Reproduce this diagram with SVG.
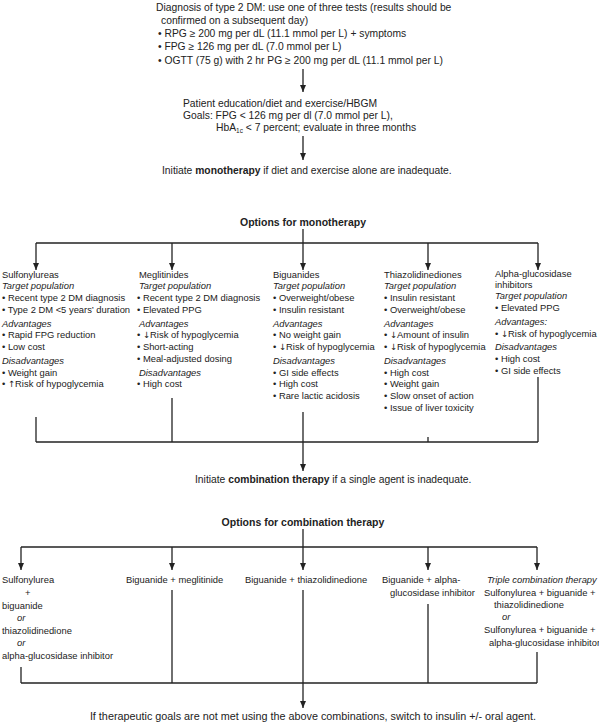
<svg xmlns="http://www.w3.org/2000/svg" width="599" height="724" viewBox="0 0 599 724">
<style>
text{font-family:"Liberation Sans",Arial,sans-serif;font-size:9.4px;fill:#222}
.lg{font-size:10.3px}
.fin{font-size:10.8px;text-anchor:middle}
.i{font-style:italic}
.b{font-weight:bold}
.g{font-family:"DejaVu Sans",sans-serif;font-size:8.6px}
.ttl{font-weight:bold;font-size:10.5px;text-anchor:middle}
.ln{stroke:#222;stroke-width:1.3;fill:none}
.ar{stroke:#222;stroke-width:1.3;fill:none;marker-end:url(#ah)}
</style>
<defs>
<marker id="ah" markerWidth="7" markerHeight="6" refX="7" refY="3" orient="auto" markerUnits="userSpaceOnUse">
<path d="M0,0 L7,3 L0,6 z" fill="#222"/>
</marker>
</defs>
<rect width="599" height="724" fill="#fff"/>

<g id="connectors">
<line class="ar" x1="303" y1="69" x2="303" y2="92"/>
<line class="ar" x1="303" y1="136" x2="303" y2="160"/>
<line class="ln" x1="303" y1="229" x2="303" y2="243"/>
<line class="ln" x1="36" y1="243" x2="538" y2="243"/>
<line class="ar" x1="36" y1="243" x2="36" y2="270"/>
<line class="ar" x1="172" y1="243" x2="172" y2="270"/>
<line class="ar" x1="303" y1="243" x2="303" y2="270"/>
<line class="ar" x1="428" y1="243" x2="428" y2="270"/>
<line class="ar" x1="538" y1="243" x2="538" y2="270"/>
<line class="ln" x1="36" y1="417" x2="36" y2="442"/>
<line class="ln" x1="172" y1="398" x2="172" y2="442"/>
<line class="ln" x1="428" y1="437" x2="428" y2="442"/>
<line class="ln" x1="538" y1="377" x2="538" y2="442"/>
<line class="ln" x1="36" y1="442" x2="538" y2="442"/>
<line class="ar" x1="303" y1="412" x2="303" y2="471"/>
<line class="ln" x1="303" y1="529" x2="303" y2="547"/>
<line class="ln" x1="21" y1="547" x2="537" y2="547"/>
<line class="ar" x1="21" y1="547" x2="21" y2="570"/>
<line class="ar" x1="172" y1="547" x2="172" y2="570"/>
<line class="ar" x1="303" y1="547" x2="303" y2="570"/>
<line class="ar" x1="428" y1="547" x2="428" y2="570"/>
<line class="ar" x1="537" y1="547" x2="537" y2="570"/>
<line class="ln" x1="21" y1="667" x2="21" y2="683"/>
<line class="ln" x1="172" y1="590" x2="172" y2="683"/>
<line class="ln" x1="428" y1="604" x2="428" y2="683"/>
<line class="ln" x1="537" y1="652" x2="537" y2="683"/>
<line class="ln" x1="21" y1="683" x2="537" y2="683"/>
<line class="ar" x1="303" y1="590" x2="303" y2="708"/>
</g>

<g id="diagnosis">
<text class="lg" x="156" y="10.5">Diagnosis of type 2 DM: use one of three tests (results should be</text>
<text class="lg" x="161" y="23.5">confirmed on a subsequent day)</text>
<text class="lg" x="158" y="37">• RPG ≥ 200 mg per dL (11.1 mmol per L) + symptoms</text>
<text class="lg" x="158" y="50">• FPG ≥ 126 mg per dL (7.0 mmol per L)</text>
<text class="lg" x="158" y="63.5">• OGTT (75 g) with 2 hr PG ≥ 200 mg per dL (11.1 mmol per L)</text>
</g>

<g id="education">
<text class="lg" x="183" y="106.5">Patient education/diet and exercise/HBGM</text>
<text class="lg" x="183" y="118.5">Goals: FPG &lt; 126 mg per dl (7.0 mmol per L),</text>
<text class="lg" x="216" y="130.5">HbA<tspan dy="2" font-size="6.5">1c</tspan><tspan dy="-2"> &lt; 7 percent; evaluate in three months</tspan></text>
</g>

<g id="initiate-monotherapy">
<text class="lg" x="162" y="173.5">Initiate <tspan class="b">monotherapy</tspan> if diet and exercise alone are inadequate.</text>
</g>

<g id="monotherapy-title">
<text class="ttl" x="303" y="226">Options for monotherapy</text>
</g>

<g id="sulfonylureas">
<text x="2" y="277.5">Sulfonylureas</text>
<text class="i" x="2" y="289.3">Target population</text>
<text x="2" y="301.1">• Recent type 2 DM diagnosis</text>
<text x="2" y="312.9">• Type 2 DM &lt;5 years’ duration</text>
<text class="i" x="2" y="326.5">Advantages</text>
<text x="2" y="338.3">• Rapid FPG reduction</text>
<text x="2" y="350.1">• Low cost</text>
<text class="i" x="2" y="363.7">Disadvantages</text>
<text x="2" y="375.5">• Weight gain</text>
<text x="2" y="387.3">• <tspan class="g">↑</tspan>Risk of hypoglycemia</text>
</g>

<g id="meglitinides">
<text x="139" y="277.5">Meglitinides</text>
<text class="i" x="139" y="289.3">Target population</text>
<text x="137" y="301.1">• Recent type 2 DM diagnosis</text>
<text x="137" y="312.9">• Elevated PPG</text>
<text class="i" x="139" y="326.5">Advantages</text>
<text x="137" y="338.3">• <tspan class="g">↓</tspan>Risk of hypoglycemia</text>
<text x="137" y="350.1">• Short-acting</text>
<text x="137" y="361.9">• Meal-adjusted dosing</text>
<text class="i" x="139" y="375.5">Disadvantages</text>
<text x="137" y="387.3">• High cost</text>
</g>

<g id="biguanides">
<text x="273" y="277.5">Biguanides</text>
<text class="i" x="273" y="289.3">Target population</text>
<text x="273" y="301.1">• Overweight/obese</text>
<text x="273" y="312.9">• Insulin resistant</text>
<text class="i" x="273" y="326.5">Advantages</text>
<text x="273" y="338.3">• No weight gain</text>
<text x="273" y="350.1">• <tspan class="g">↓</tspan>Risk of hypoglycemia</text>
<text class="i" x="273" y="363.7">Disadvantages</text>
<text x="273" y="375.5">• GI side effects</text>
<text x="273" y="387.3">• High cost</text>
<text x="273" y="399.1">• Rare lactic acidosis</text>
</g>

<g id="thiazolidinediones">
<text x="384" y="277.5">Thiazolidinediones</text>
<text class="i" x="384" y="289.3">Target population</text>
<text x="384" y="301.1">• Insulin resistant</text>
<text x="384" y="312.9">• Overweight/obese</text>
<text class="i" x="384" y="326.5">Advantages</text>
<text x="384" y="338.3">• <tspan class="g">↓</tspan>Amount of insulin</text>
<text x="384" y="350.1">• <tspan class="g">↓</tspan>Risk of hypoglycemia</text>
<text class="i" x="384" y="363.7">Disadvantages</text>
<text x="384" y="375.5">• High cost</text>
<text x="384" y="387.3">• Weight gain</text>
<text x="384" y="399.1">• Slow onset of action</text>
<text x="384" y="410.9">• Issue of liver toxicity</text>
</g>

<g id="alpha-glucosidase-inhibitors">
<text x="495" y="276.5">Alpha-glucosidase</text>
<text x="495" y="287.5">inhibitors</text>
<text class="i" x="495" y="299.3">Target population</text>
<text x="495" y="311.1">• Elevated PPG</text>
<text class="i" x="495" y="324.7">Advantages:</text>
<text x="495" y="336.5">• <tspan class="g">↓</tspan>Risk of hypoglycemia</text>
<text class="i" x="495" y="350.1">Disadvantages</text>
<text x="495" y="361.9">• High cost</text>
<text x="495" y="373.7">• GI side effects</text>
</g>

<g id="initiate-combination">
<text class="lg" x="195" y="483">Initiate <tspan class="b">combination therapy</tspan> if a single agent is inadequate.</text>
</g>

<g id="combination-title">
<text class="ttl" x="303" y="526">Options for combination therapy</text>
</g>

<g id="sulfonylurea-combo">
<text x="2" y="583.3">Sulfonylurea</text>
<text x="25" y="596.3">+</text>
<text x="2" y="608.8">biguanide</text>
<text class="i" x="17" y="621.3">or</text>
<text x="2" y="633.8">thiazolidinedione</text>
<text class="i" x="17" y="646.3">or</text>
<text x="2" y="659.3">alpha-glucosidase inhibitor</text>
</g>

<g id="biguanide-meglitinide">
<text x="126" y="583.3">Biguanide + meglitinide</text>
</g>

<g id="biguanide-thiazolidinedione">
<text x="245" y="583.3">Biguanide + thiazolidinedione</text>
</g>

<g id="biguanide-alpha">
<text x="382" y="583.3">Biguanide + alpha-</text>
<text x="390" y="596">glucosidase inhibitor</text>
</g>

<g id="triple-combination">
<text class="i" x="487" y="583.3">Triple combination therapy</text>
<text x="484" y="595.8">Sulfonylurea + biguanide +</text>
<text x="494" y="607.5">thiazolidinedione</text>
<text class="i" x="502" y="620.3">or</text>
<text x="484" y="633.3">Sulfonylurea + biguanide +</text>
<text x="489" y="646.3">alpha-glucosidase inhibitor</text>
</g>

<g id="insulin">
<text class="fin" x="313" y="720">If therapeutic goals are not met using the above combinations, switch to insulin +/- oral agent.</text>
</g>
</svg>
